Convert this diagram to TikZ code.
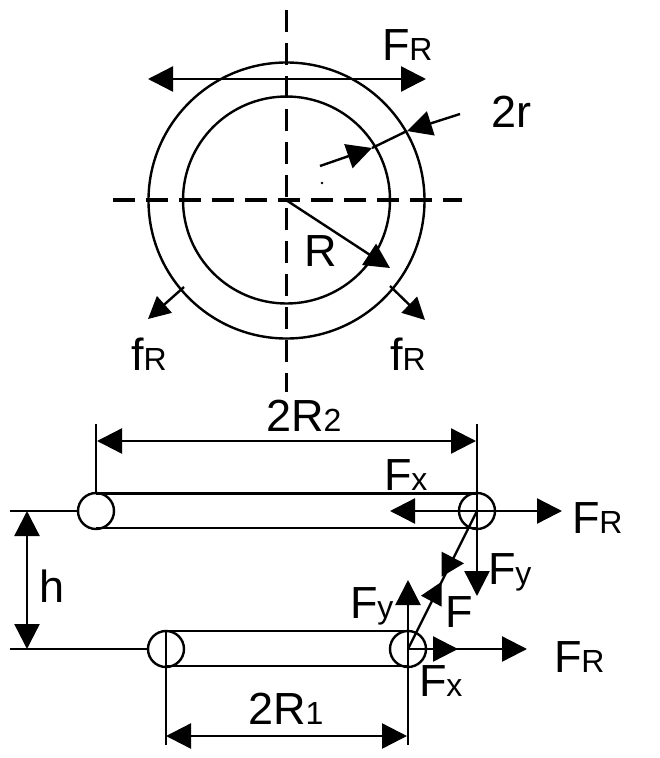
\documentclass[tikz,border=0pt]{standalone}
\usepackage{fontspec}
\setmainfont{Liberation Sans}
\usetikzlibrary{arrows.meta}
\newcommand{\lbl}[2]{\fontsize{45}{45}\selectfont #1\fontsize{32}{32}\selectfont #2}
\tikzset{
  ln/.style={line width=2.4pt,draw=black},
  arr/.style={ln,-{Triangle[length=25pt,width=25pt]}},
  dbl/.style={ln,{Triangle[length=25pt,width=25pt]}-{Triangle[length=25pt,width=25pt]}},
  sarr/.style={ln,-{Triangle[length=22pt,width=22pt]}},
  axisv/.style={line width=3pt,draw=black,dash pattern=on 22pt off 11pt},
  axish/.style={line width=3.4pt,draw=black,dash pattern=on 22pt off 11pt},
  txt/.style={anchor=base west,inner sep=0pt,outer sep=0pt,text=black},
  ringc/.style={circle,draw=black,line width=2.4pt,minimum size=36pt,inner sep=0pt,outer sep=0pt},
  disc/.style={circle,draw=black,line width=2.4pt,inner sep=0pt,outer sep=0pt}
}
\begin{document}
\begin{tikzpicture}[x=1pt,y=-1pt]
\useasboundingbox[fill=white] (0,0) rectangle (660,758);
% top view
\node[disc,minimum size=276pt] (outer) at (286.5,200.5) {};
\node[disc,minimum size=207pt] (inner) at (286.5,200) {};
\coordinate (vt) at (286,10); \coordinate (vb) at (286,392);
\coordinate (hl) at (113,200); \coordinate (hr) at (462,200);
\draw[axisv] (vt) -- (vb);
\draw[axish] (hl) -- (hr);
\coordinate (frl) at (148,79); \coordinate (frr) at (426,79);
\draw[dbl] (frl) -- (frr);
\coordinate (rs) at (320,166); \coordinate (ra) at (372,148);
\coordinate (rb) at (407,131); \coordinate (re) at (460,114);
\draw[arr] (rs) -- (ra);
\draw[ln] (ra) -- (rb);
\draw[arr] (re) -- (rb);
\coordinate (cen) at (286,200); \coordinate (rtip) at (390,268);
\draw[arr] (cen) -- (rtip);
\fill (322,183) circle (1.3pt);
\coordinate (fla) at (184,287); \coordinate (flb) at (148,319);
\coordinate (fra) at (390,286); \coordinate (frb) at (425,320);
\draw[sarr] (fla) -- (flb);
\draw[sarr] (fra) -- (frb);
\node[txt] (tFR) at (382,60) {\lbl{F}{R}};
\node[txt] (t2r) at (491,127) {\lbl{2r}{}};
\node[txt] (tR) at (304.5,266) {\lbl{R}{}};
\node[txt] (tfl) at (131,370) {\lbl{f}{R}};
\node[txt] (tfr) at (390,370) {\lbl{f}{R}};
% upper ring
\node[ringc] (ul) at (96,511) {};
\node[ringc] (ur) at (477,511) {};
\draw[ln] (96,493.5) -- (477,493.5);
\draw[ln] (96,528) -- (477,528);
\coordinate (ult) at (96,424); \coordinate (urt) at (477,424);
\draw[ln] (ult) -- (ul.north);
\coordinate (ld) at (97,441); \coordinate (rd) at (476,441);
\draw[dbl] (ld) -- (rd);
\coordinate (ul0) at (10,511);
\draw[ln] (ul0) -- (ul.west);
\coordinate (ufy) at (477,596);
\draw[ln] (urt) -- (ur.center);
\draw[arr] (ur.center) -- (ufy);
\coordinate (ufx) at (390,511); \coordinate (ufr) at (562,511);
\draw[arr] (ur.center) -- (ufx);
\draw[arr] (ur.center) -- (ufr);
% lower ring
\node[ringc] (ll) at (166,649) {};
\node[ringc] (lr) at (408,649) {};
\draw[ln] (166,631) -- (408,631);
\draw[ln] (166,666) -- (408,666);
\coordinate (ll0) at (10,649);
\draw[ln] (ll0) -- (ll.west);
\coordinate (llb) at (166,745); \coordinate (lrb) at (408,745);
\draw[ln] (ll.north) -- (llb);
\coordinate (lfy) at (408,580);
\draw[ln] (lr.center) -- (lrb);
\draw[arr] (lr.center) -- (lfy);
\coordinate (lfx) at (458,649); \coordinate (lfr) at (527,649);
\draw[arr] (lr.center) -- (lfx);
\draw[arr] (lr.center) -- (lfr);
% force F
\draw[ln] (ur.center) -- (lr.center);
\fill (441.7,551.7) -- (464,563.3) -- (441.7,576.7) -- cycle;
\fill (421,595.7) -- (441.7,581.7) -- (441.7,606.7) -- cycle;
% dimensions
\coordinate (h1) at (27,511); \coordinate (h2) at (27,649);
\draw[dbl] (h1) -- (h2);
\coordinate (d1) at (166,736); \coordinate (d2) at (407,736);
\draw[dbl] (d1) -- (d2);
% labels
\node[txt] (t2R2) at (266,431) {\lbl{2R}{2}};
\node[txt] (tFx1) at (384,490) {\lbl{F}{x}};
\node[txt] (tFR1) at (572,533) {\lbl{F}{R}};
\node[txt] (tFy1) at (488,584) {\lbl{F}{y}};
\node[txt] (tFy2) at (350,618) {\lbl{F}{y}};
\node[txt] (tF) at (445,627) {\lbl{F}{}};
\node[txt] (tFR2) at (554,672) {\lbl{F}{R}};
\node[txt] (tFx2) at (419,696) {\lbl{F}{x}};
\node[txt] (th) at (39,602) {\lbl{h}{}};
\node[txt] (t2R1) at (248,724) {\lbl{2R}{1}};
\end{tikzpicture}
\end{document}
